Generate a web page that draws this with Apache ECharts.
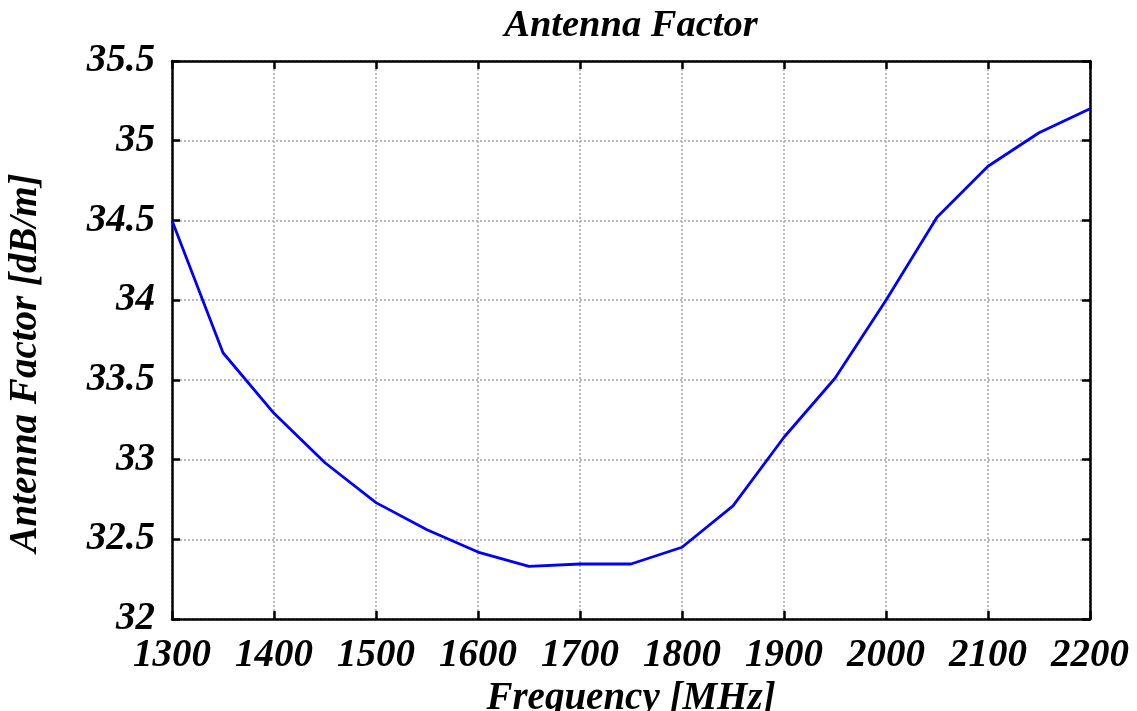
<!DOCTYPE html>
<html>
<head>
<meta charset="utf-8">
<script src="https://cdn.jsdelivr.net/npm/echarts@6/dist/echarts.min.js"></script>
<style>html,body{margin:0;padding:0;background:#fff;}#c{width:1137px;height:711px;}</style>
</head>
<body>
<div id="c"></div>
<script>
const frequency = [1300,1350,1400,1450,1500,1550,1600,1650,1700,1750,1800,1850,1900,1950,2000,2050,2100,2150,2200];
const antennaFactor = [34.5,33.67,33.29,32.98,32.73,32.56,32.42,32.33,32.345,32.345,32.45,32.71,33.14,33.51,34.0,34.52,34.84,35.05,35.2];
const xTicks = {min:1300, max:2200, step:100};
const yTicks = {min:32, max:35.5, step:0.5};

const font = "'Liberation Serif', 'Times New Roman', serif";
const txt = {fontFamily: font, fontStyle: 'italic', fontWeight: 'bold', color: '#000', fontSize: 39};

const chart = echarts.init(document.getElementById('c'), null, {renderer: 'canvas'});
const gridLine = {show: true, lineStyle: {color: '#b4b4b4', width: 1.8, type: [2, 2]}};
const axLine = {show: true, onZero: false, lineStyle: {color: '#000', width: 2.5}};
const tick = {show: true, inside: true, length: 8, lineStyle: {color: '#000', width: 2.5}};
chart.setOption({
  animation: false,
  title: {text: 'Antenna Factor', left: 626, textAlign: 'center', top: 2, textStyle: Object.assign({}, txt, {fontSize: 38.5})},
  grid: {left: 172, right: 47, top: 61, bottom: 92, containLabel: false, outerBoundsMode: 'none'},
  xAxis: [{
    type: 'value', min: xTicks.min, max: xTicks.max, interval: xTicks.step, position: 'bottom',
    name: 'Frequency [MHz]', nameLocation: 'middle', nameGap: 49, nameTextStyle: txt,
    axisLine: axLine, axisTick: tick, splitLine: gridLine,
    axisLabel: Object.assign({}, txt, {margin: 17, formatter: v => String(v)})
  }, {
    type: 'value', min: xTicks.min, max: xTicks.max, interval: xTicks.step, position: 'top',
    axisLine: axLine, axisTick: tick, splitLine: {show: false}, axisLabel: {show: false}
  }],
  yAxis: [{
    type: 'value', min: yTicks.min, max: yTicks.max, interval: yTicks.step, position: 'left',
    name: 'Antenna Factor [dB/m]', nameLocation: 'middle', nameGap: 127,
    nameTextStyle: Object.assign({}, txt, {padding: [0, 46, 0, 0]}),
    axisLine: axLine, axisTick: tick, splitLine: gridLine,
    axisLabel: Object.assign({}, txt, {margin: 17, formatter: v => String(v)})
  }, {
    type: 'value', min: yTicks.min, max: yTicks.max, interval: yTicks.step, position: 'right',
    axisLine: axLine, axisTick: tick, splitLine: {show: false}, axisLabel: {show: false}
  }],
  series: [{
    type: 'line', xAxisIndex: 0, yAxisIndex: 0,
    data: frequency.map((f, i) => [f, antennaFactor[i]]),
    showSymbol: false, symbol: 'none',
    lineStyle: {color: '#0000ff', width: 2.8}, z: 5
  }]
});
</script>
</body>
</html>
